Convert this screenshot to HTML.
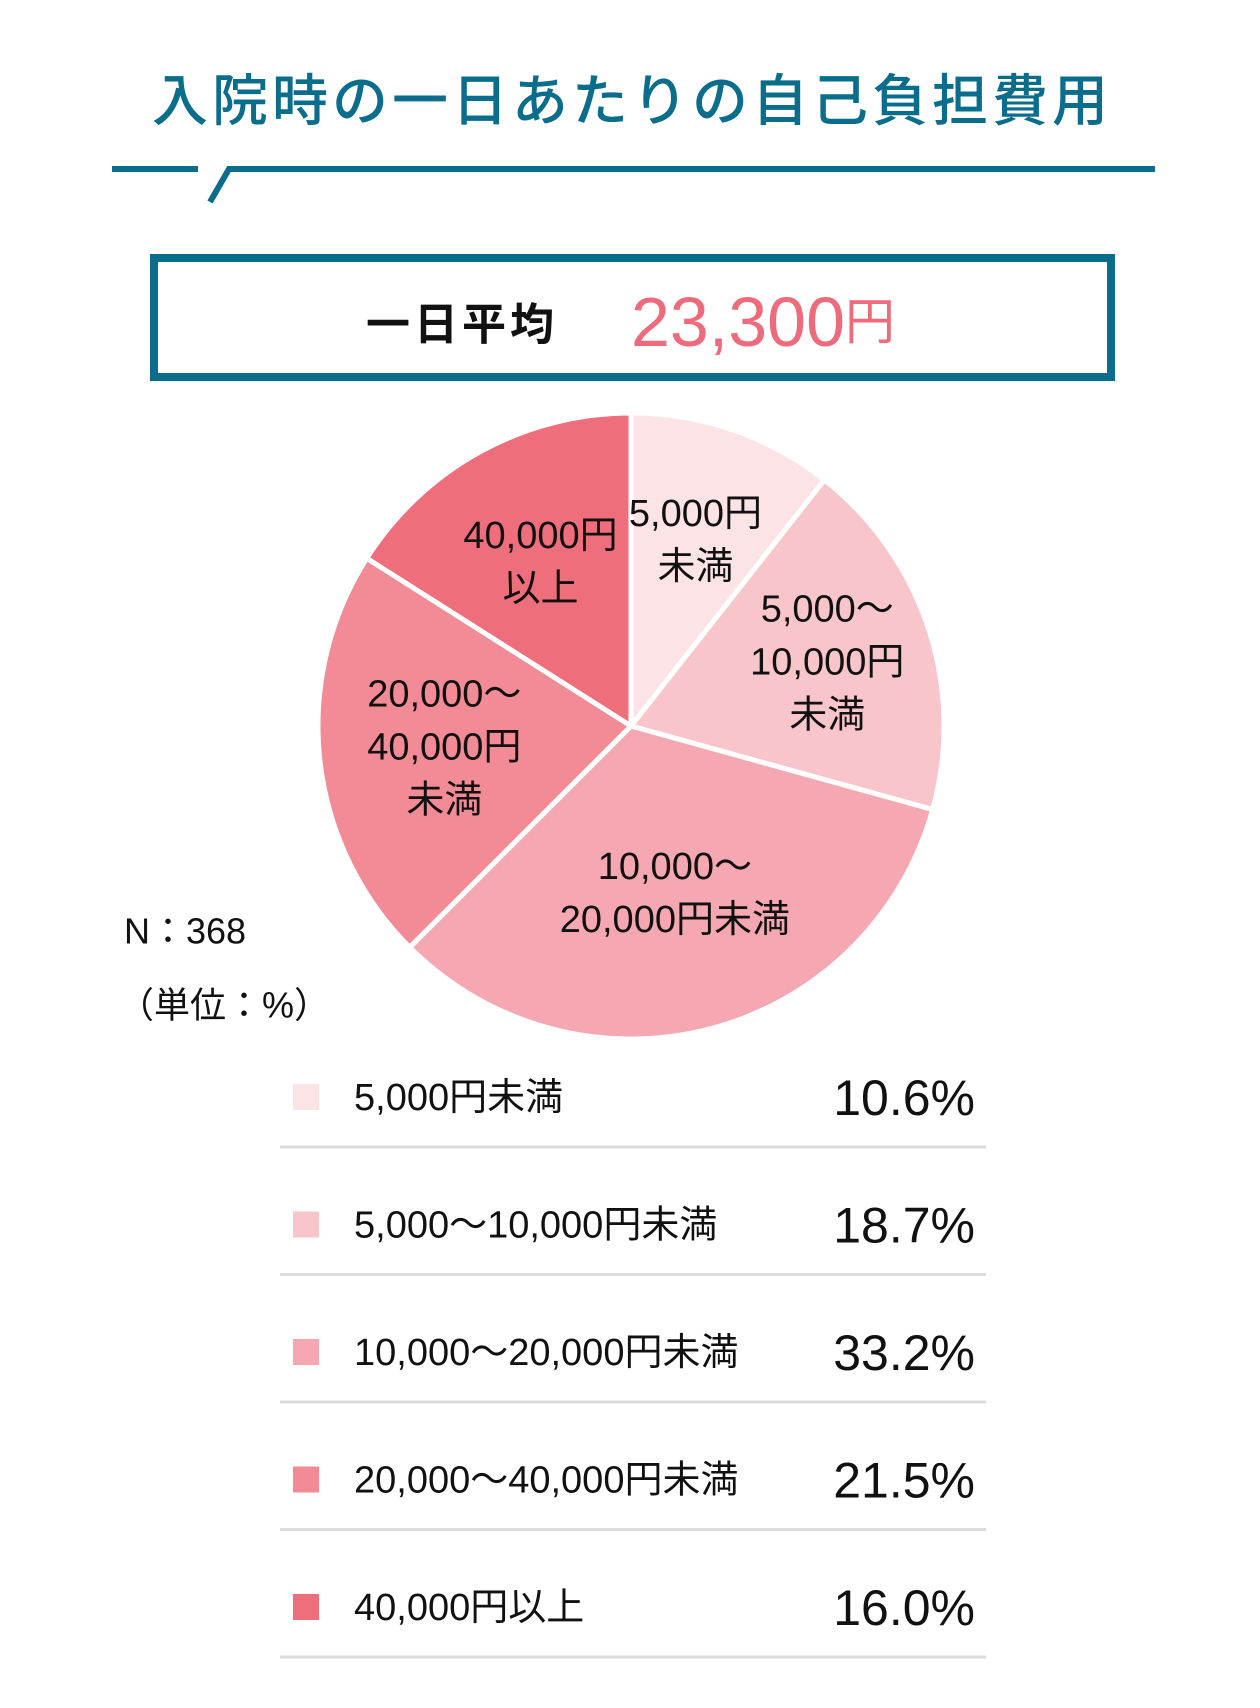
<!DOCTYPE html>
<html><head><meta charset="utf-8"><style>
html,body{margin:0;padding:0;background:#fff;}
svg{display:block;font-family:"Liberation Sans","Noto Sans CJK JP",sans-serif;}
</style></head><body>
<svg width="1260" height="1708" viewBox="0 0 1260 1708">
<text x="632" y="101" text-anchor="middle" dominant-baseline="central" font-size="56" letter-spacing="4" fill="#0b6d8c" font-weight="500">入院時の一日あたりの自己負担費用</text>
<g stroke="#0b6d8c" stroke-width="6" fill="none">
<line x1="112" y1="169" x2="198" y2="169"/>
<polyline points="210,202 229,169 1155,169"/>
</g>
<rect x="154" y="258" width="957" height="119" fill="none" stroke="#0b6d8c" stroke-width="8"/>
<text x="462" y="325" text-anchor="middle" dominant-baseline="central" font-size="44" font-weight="bold" letter-spacing="4" fill="#111">一日平均</text>
<text x="763" y="322" text-anchor="middle" dominant-baseline="central" fill="#ee6b7c"><tspan font-size="70">23,300</tspan><tspan font-size="50">円</tspan></text>
<g id="pie"></g>
<g id="pielabels"></g>
<text x="124" y="931" dominant-baseline="central" font-size="36" fill="#111">N：368</text>
<text x="118" y="1005" dominant-baseline="central" font-size="36" fill="#111">（単位：%）</text>
<g id="legend"></g>
</svg>
<script>
const categories = ["5,000円未満","5,000〜10,000円未満","10,000〜20,000円未満","20,000〜40,000円未満","40,000円以上"];
const values = [10.6, 18.7, 33.2, 21.5, 16.0];
const valueLabels = ["10.6%","18.7%","33.2%","21.5%","16.0%"];
const pieLabelLines = [["5,000円","未満"],["5,000〜","10,000円","未満"],["10,000〜","20,000円未満"],["20,000〜","40,000円","未満"],["40,000円","以上"]];
const colors = ["#fbe3e6","#f8c5ca","#f5a8b1","#f28b95","#ef6e7c"];
const NS="http://www.w3.org/2000/svg";
const cx=631, cy=726, r=313;
const total=values.reduce((a,b)=>a+b,0);
function ang(v){return v/total*2*Math.PI;}
function pt(a,rr){return [cx+rr*Math.sin(a), cy-rr*Math.cos(a)];}
const pie=document.getElementById('pie'), pl=document.getElementById('pielabels');
let acc=0;
const labelR=[0.63,0.66,0.55,0.6,0.6];
values.forEach((v,i)=>{
  const a0=ang(acc), a1=ang(acc+v); acc+=v;
  const p0=pt(a0,r), p1=pt(a1,r);
  const path=document.createElementNS(NS,'path');
  path.setAttribute('d',`M${cx},${cy} L${p0[0]},${p0[1]} A${r},${r} 0 ${(a1-a0)>Math.PI?1:0} 1 ${p1[0]},${p1[1]} Z`);
  path.setAttribute('fill',colors[i]);
  path.setAttribute('stroke','#fff');
  path.setAttribute('stroke-width','5');
  path.setAttribute('stroke-linejoin','round');
  
  
  pie.appendChild(path);
  const m=pt((a0+a1)/2, r*labelR[i]);
  const lines=pieLabelLines[i];
  const t=document.createElementNS(NS,'text');
  
  
  t.setAttribute('text-anchor','middle');
  t.setAttribute('font-size','38');
  t.setAttribute('fill','#111');
  lines.forEach((s,j)=>{
    const ts=document.createElementNS(NS,'tspan');
    ts.setAttribute('x',m[0]);
    ts.setAttribute('y',m[1]+(j-(lines.length-1)/2)*53+13);
    ts.textContent=s;
    t.appendChild(ts);
  });
  pl.appendChild(t);
});
const lg=document.getElementById('legend');
categories.forEach((c,i)=>{
  const yc=1097+i*127.5;
  const sq=document.createElementNS(NS,'rect');
  sq.setAttribute('x',293);sq.setAttribute('y',yc-13);sq.setAttribute('width',26);sq.setAttribute('height',26);
  sq.setAttribute('fill',colors[i]);
  
  
  lg.appendChild(sq);
  const t=document.createElementNS(NS,'text');
  t.setAttribute('x',354);t.setAttribute('y',yc+13);t.setAttribute('font-size','38');t.setAttribute('fill','#111');
  t.textContent=c;
  
  
  lg.appendChild(t);
  const v=document.createElementNS(NS,'text');
  v.setAttribute('x',975);v.setAttribute('y',yc+18);v.setAttribute('font-size','50');v.setAttribute('fill','#111');v.setAttribute('text-anchor','end');
  v.textContent=valueLabels[i];
  
  
  lg.appendChild(v);
  const ln=document.createElementNS(NS,'line');
  ln.setAttribute('x1',280);ln.setAttribute('x2',986);ln.setAttribute('y1',yc+50);ln.setAttribute('y2',yc+50);
  ln.setAttribute('stroke','#dcdcdc');ln.setAttribute('stroke-width','3');
  
  
  lg.appendChild(ln);
});
</script>
</body></html>
